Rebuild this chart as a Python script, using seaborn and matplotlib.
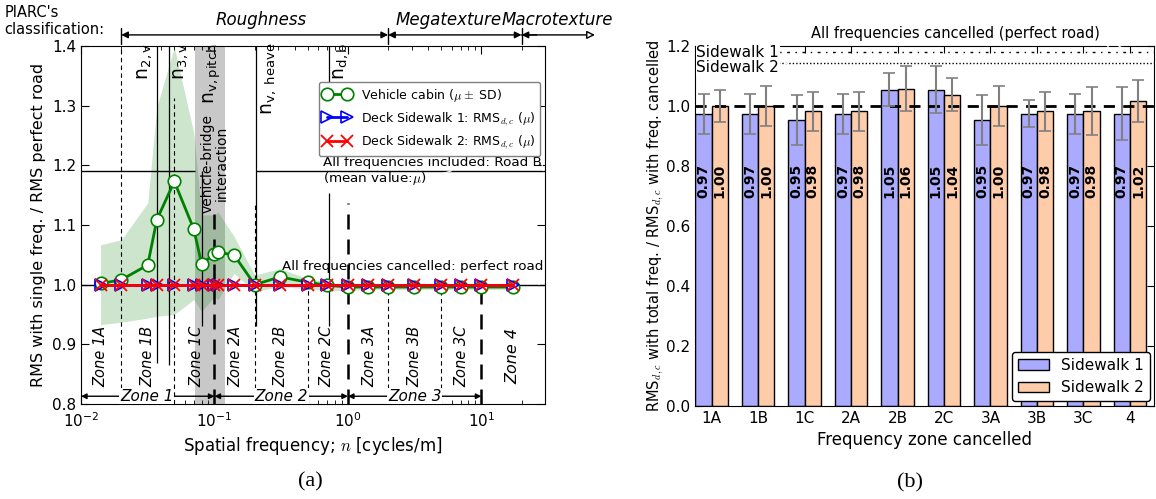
import matplotlib
matplotlib.use("Agg")
import matplotlib.pyplot as plt
import pandas as pd
import seaborn as sns

# ---------------- panel (a) data ----------------
freq = [0.014, 0.02, 0.0316, 0.037, 0.05, 0.07, 0.08, 0.1, 0.106, 0.14, 0.2,
        0.31, 0.5, 0.7, 1.0, 1.42, 2.0, 3.14, 5.0, 7.0, 10.0, 17.3]
cabin_mean = [1.002, 1.008, 1.033, 1.109, 1.173, 1.093, 1.035, 1.051, 1.054, 1.050, 1.000,
              1.013, 1.004, 0.999, 0.996, 0.996, 0.996, 0.996, 0.996, 0.996, 0.996, 0.996]
cabin_hi = [1.067, 1.075, 1.137, 1.298, 1.398, 1.254, 1.117, 1.117, 1.122, 1.081, 1.016,
            1.027, 1.010, 1.005, 1.000, 0.999, 0.999, 0.999, 0.999, 0.999, 0.999, 0.999]
cabin_lo = [0.933, 0.937, 0.944, 0.947, 0.950, 0.975, 0.955, 0.980, 0.975, 1.019, 0.988,
            0.997, 0.993, 0.990, 0.990, 0.992, 0.992, 0.992, 0.992, 0.992, 0.992, 0.992]
sidewalk1_mean = [1.0, 1.0, 1.0, 1.0, 1.0, 1.0, 1.0, 1.0, 1.0, 1.0, 1.0,
                  1.0, 1.0, 1.0, 1.0, 1.0, 1.0, 1.0, 1.0, 1.0, 1.0, 1.0]
sidewalk2_mean = [1.0, 1.0, 1.0, 1.0, 1.0, 1.0, 1.0, 1.0, 1.0, 1.0, 1.0,
                  1.0, 1.0, 1.0, 1.0, 1.0, 1.0, 1.0, 1.0, 1.0, 1.0, 1.0]

zone_names = ["Zone 1A", "Zone 1B", "Zone 1C", "Zone 2A", "Zone 2B", "Zone 2C",
              "Zone 3A", "Zone 3B", "Zone 3C", "Zone 4"]
zone_label_x = [0.0141, 0.0316, 0.0736, 0.145, 0.313, 0.70, 1.46, 3.16, 7.15, 17.3]
thin_bounds = [0.02, 0.05, 0.2, 0.5, 2, 5]
thin_tops = [1.4, 1.313, 1.137, 1.0, 1.0, 1.0]
thick_bounds = [0.1, 1, 10]
thick_tops = [1.131, 1.137, 1.0]
nat_freq = [0.0369, 0.0459, 0.080, 0.205, 0.724]
nat_lo = [0.868, 0.865, 0.93, 0.93, 0.93]
nat_hi = [1.4, 1.4, 1.191, 1.4, 1.154]
main_zones = ["Zone 1", "Zone 2", "Zone 3"]
main_bounds = [0.01, 0.1, 1, 10]
main_label_x = [0.031, 0.318, 3.16]
piarc_bounds = [0.02, 2, 20, 71]
piarc_names = ["Roughness", "Megatexture", "Macrotexture"]
piarc_label_x = [0.223, 5.7, 36.8]

# ---------------- panel (b) data ----------------
zones_b = ["1A", "1B", "1C", "2A", "2B", "2C", "3A", "3B", "3C", "4"]
sw1 = [0.974, 0.974, 0.953, 0.974, 1.054, 1.054, 0.953, 0.974, 0.974, 0.974]
sw2 = [1.000, 1.000, 0.983, 0.983, 1.058, 1.038, 1.000, 0.983, 0.983, 1.018]
sw1_sd = [0.067, 0.067, 0.083, 0.067, 0.055, 0.078, 0.083, 0.045, 0.067, 0.088]
sw2_sd = [0.052, 0.068, 0.065, 0.065, 0.074, 0.054, 0.067, 0.065, 0.079, 0.070]

sns.set_style("ticks")
plt.rcParams["font.family"] = ["DejaVu Sans"]
plt.rcParams["mathtext.fontset"] = "cm"
plt.rcParams["xtick.direction"] = "in"
plt.rcParams["ytick.direction"] = "in"
plt.rcParams["xtick.top"] = True
plt.rcParams["ytick.right"] = True
for key in ["text.color", "axes.labelcolor", "xtick.color", "ytick.color", "axes.edgecolor"]:
    plt.rcParams[key] = "black"

fig = plt.figure(figsize=(11.56, 4.99), dpi=100)
ax = fig.add_axes([0.0701, 0.1904, 0.4014, 0.7174])
ax2 = fig.add_axes([0.6012, 0.1864, 0.3975, 0.7214])

# ================= panel (a) =================
ax.set_xscale("log")
ax.axvspan(0.0714, 0.12, color="#c8c8c8", lw=0, zorder=0)
ax.fill_between(freq, cabin_lo, cabin_hi, color="green", alpha=0.2, lw=0, zorder=1)

ax.vlines(thin_bounds, 0.8, thin_tops, colors="k", lw=0.8, linestyles=(0, (4, 3)), zorder=2)
ax.vlines(thick_bounds, 0.8, thick_tops, colors="k", lw=1.8, linestyles=(0, (6, 4)), zorder=2)
ax.vlines(nat_freq, nat_lo, nat_hi, colors="k", lw=0.9, zorder=2)
ax.vlines([0.724], 1.3, 1.4, colors="k", lw=0.9, zorder=2)
ax.hlines([1.191, 1.191], [0.01, 0.205], [0.0714, 30], colors="k", lw=1.0, zorder=2)
ax.axhline(1.0, color="k", lw=1.0, zorder=2)

sns.lineplot(x=freq, y=cabin_mean, ax=ax, color="green", lw=2, marker="o", markersize=9,
             markerfacecolor="white", markeredgecolor="green", markeredgewidth=1.2,
             label=r"Vehicle cabin ($\mu\pm$ SD)", zorder=3)
sns.lineplot(x=freq, y=sidewalk1_mean, ax=ax, color="blue", lw=2, marker=">", markersize=9,
             markerfacecolor="none", markeredgecolor="blue", markeredgewidth=1.2,
             label=r"Deck Sidewalk 1: RMS$_{d,c}$ ($\mu$)", zorder=4)
sns.lineplot(x=freq, y=sidewalk2_mean, ax=ax, color="red", lw=2, marker="x", markersize=9,
             markeredgecolor="red", markeredgewidth=1.3,
             label=r"Deck Sidewalk 2: RMS$_{d,c}$ ($\mu$)", zorder=5)

ax.set_xlim(0.01, 30)
ax.set_ylim(0.8, 1.4)
ax.set_yticks([0.8, 0.9, 1.0, 1.1, 1.2, 1.3, 1.4])
ax.tick_params(which="major", length=6, labelsize=11)
ax.tick_params(axis="x", which="major", pad=5)
ax.tick_params(which="minor", length=3)
ax.set_xlabel("Spatial frequency; $n$ [cycles/m]", fontsize=12)
ax.set_ylabel("RMS with single freq. / RMS perfect road", fontsize=11.5)

for name, x in zip(zone_names, zone_label_x):
    ax.text(x, 0.88, name, rotation=90, ha="center", va="center", style="italic",
            fontsize=11.5 if name == "Zone 4" else 10.5, zorder=6)

for i, name in enumerate(main_zones):
    ax.annotate("", xy=(main_bounds[i + 1], 0.813), xytext=(main_bounds[i], 0.813),
                arrowprops=dict(arrowstyle="<|-|>", color="k", lw=1, shrinkA=0, shrinkB=0,
                                mutation_scale=8), zorder=6)
    ax.text(main_label_x[i], 0.813, name, ha="center", va="center", style="italic",
            fontsize=11, zorder=7,
            bbox=dict(boxstyle="square,pad=0.05", fc="white", ec="none"))

nlab = dict(rotation=90, va="top", fontsize=13.5, zorder=6)
ax.text(0.0355, 1.405, r"n$_\mathregular{2,v}$", ha="right", **nlab)
ax.text(0.0475, 1.405, r"n$_\mathregular{3,v}$", ha="left", **nlab)
ax.text(0.097, 1.405, r"n$_\mathregular{v,pitch}$", ha="center", **nlab)
ax.text(0.215, 1.405, r"n$_\mathregular{v,\ heave}$", ha="left", **nlab)
ax.text(0.75, 1.405, r"n$_\mathregular{d,b}$", ha="left", **nlab)
ax.text(0.1, 1.203, "vehicle-bridge\ninteraction", rotation=90, ha="center", va="center",
        fontsize=10, linespacing=1.0, zorder=6)

ax.annotate("All frequencies included: Road B", xy=(29, 1.191), xytext=(0.65, 1.204),
            va="center", fontsize=9.7,
            arrowprops=dict(arrowstyle="-", lw=0.8, relpos=(1, 0.5), shrinkA=0, shrinkB=0))
ax.annotate(r"(mean value:$\mu$)", xy=(6.0, 1.191), xytext=(0.65, 1.178),
            va="center", fontsize=9.7,
            arrowprops=dict(arrowstyle="-", lw=0.8, relpos=(1, 0.5), shrinkA=4, shrinkB=0))
ax.annotate("All frequencies cancelled: perfect road", xy=(27, 1.0), xytext=(0.32, 1.030),
            va="center", fontsize=9.7, zorder=6,
            arrowprops=dict(arrowstyle="-", lw=0.8, relpos=(1, 0.2), shrinkA=0, shrinkB=0))

ax.legend(loc="upper right", bbox_to_anchor=(0.99, 0.9), borderaxespad=0, numpoints=2,
          fontsize=9, frameon=True, framealpha=1, edgecolor="gray", handlelength=2.2)

# PIARC classification row above panel (a)
xt = ax.get_xaxis_transform()
for b in piarc_bounds[:-1]:
    ax.plot([b, b], [1.007, 1.051], transform=xt, color="k", lw=1, clip_on=False)
for i in range(2):
    ax.annotate("", xy=(piarc_bounds[i + 1], 1.031), xytext=(piarc_bounds[i], 1.031),
                xycoords=xt, textcoords=xt,
                arrowprops=dict(arrowstyle="<|-|>", color="k", lw=1, shrinkA=0, shrinkB=0,
                                mutation_scale=10))
ax.annotate("", xy=(piarc_bounds[3], 1.031), xytext=(piarc_bounds[2], 1.031),
            xycoords=xt, textcoords=xt,
            arrowprops=dict(arrowstyle="-|>", fc="white", ec="k", lw=1, shrinkA=0, shrinkB=0,
                            mutation_scale=12))
ax.annotate("", xy=(piarc_bounds[2], 1.031), xytext=(piarc_bounds[2] * 1.3, 1.031),
            xycoords=xt, textcoords=xt,
            arrowprops=dict(arrowstyle="-|>", fc="k", ec="k", lw=1, shrinkA=0, shrinkB=0,
                            mutation_scale=10))
for name, x in zip(piarc_names, piarc_label_x):
    ax.text(x, 1.073, name, transform=xt, ha="center", va="center", style="italic",
            fontsize=12, clip_on=False)
fig.text(0.004, 0.925, "PIARC's\nclassification:", ha="left", va="bottom", fontsize=10.5)

# ================= panel (b) =================
df = pd.DataFrame({
    "zone": zones_b * 2,
    "ratio": sw1 + sw2,
    "walk": ["Sidewalk 1"] * len(zones_b) + ["Sidewalk 2"] * len(zones_b),
})
sns.barplot(data=df, x="zone", y="ratio", hue="walk", palette=["#aaaaff", "#ffccaa"],
            width=0.7, gap=0, saturation=1, edgecolor="black", linewidth=1,
            errorbar=None, ax=ax2)

for cont, vals, sds in zip(ax2.containers, [sw1, sw2], [sw1_sd, sw2_sd]):
    xs = [p.get_x() + p.get_width() / 2 for p in cont.patches]
    ax2.errorbar(xs, vals, yerr=sds, fmt="none", ecolor="#808080", elinewidth=1.5,
                 capsize=4, capthick=1.2, zorder=4)
    for x, v in zip(xs, vals):
        ax2.text(x, 0.75, f"{v:.2f}", rotation=90, ha="center", va="center",
                 fontweight="bold", fontsize=10, zorder=5)

ax2.axhline(1.0, color="k", lw=2, ls=(0, (4, 3)), zorder=3)
ax2.axhline(1.18, color="k", lw=1, ls=(0, (2, 4, 1, 4)), zorder=3)
ax2.axhline(1.145, color="k", lw=1, ls=(0, (1, 1.5)), zorder=3)
ax2.text(-0.33, 1.18, "Sidewalk 1", ha="left", va="center", fontsize=11, zorder=6,
         bbox=dict(boxstyle="square,pad=0.05", fc="white", ec="none"))
ax2.annotate("Sidewalk 2", xy=(1.64, 1.145), xytext=(-0.33, 1.127), va="center",
             fontsize=11, zorder=6,
             bbox=dict(boxstyle="square,pad=0.05", fc="white", ec="none"),
             arrowprops=dict(arrowstyle="-", lw=0.8, relpos=(1, 0.5), shrinkA=0, shrinkB=0))
for yy, xx in [(1.18, 8.96), (1.145, 8.74)]:
    ax2.annotate("All frequencies cancelled (perfect road)" if yy == 1.18 else "",
                 xy=(xx, yy), xytext=(8.35, 1.243), ha="right", va="center", fontsize=10.5,
                 annotation_clip=False,
                 arrowprops=dict(arrowstyle="-", lw=0.9, relpos=(1, 0.5), shrinkA=0,
                                 shrinkB=0))

ax2.set_xlim(-0.36, 9.53)
ax2.set_ylim(0, 1.2)
ax2.set_yticks([0.0, 0.2, 0.4, 0.6, 0.8, 1.0, 1.2])
ax2.tick_params(which="major", length=5, labelsize=11)
ax2.set_xlabel("Frequency zone cancelled", fontsize=12)
ax2.set_ylabel(r"RMS$_{d,c}$ with total freq. / RMS$_{d,c}$ with freq. cancelled",
               fontsize=10.5, labelpad=0)
ax2.legend(loc="lower right", fontsize=11, frameon=True, framealpha=1, edgecolor="black",
           borderaxespad=0.3, title=None)

fig.text(310 / 1156, 1 - 482 / 499, "(a)", family="Liberation Serif", fontsize=16,
         ha="center", va="center")
fig.text(910 / 1156, 1 - 483 / 499, "(b)", family="Liberation Serif", fontsize=16,
         ha="center", va="center")

fig.savefig("out.png", dpi=100)
